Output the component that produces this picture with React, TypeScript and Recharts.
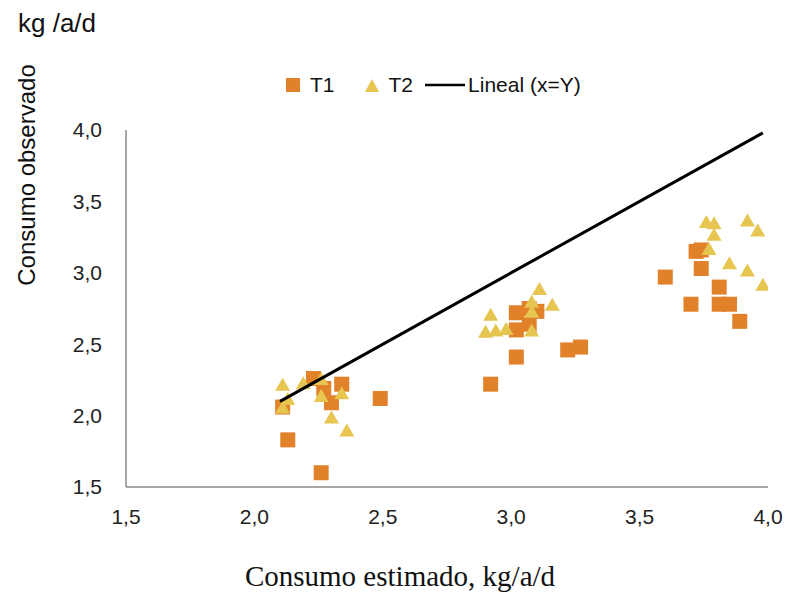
import React from "react";
import { ScatterChart, Scatter, XAxis, YAxis } from "recharts";

// T1 (cuadrados) — consumo estimado vs observado
const t1Estimado = [
  2.11, 2.13, 2.26, 2.23, 2.27, 2.3, 2.34, 2.49, 2.92, 3.02, 3.02, 3.07, 3.1, 3.02, 3.07, 3.22, 3.27,
  3.6, 3.72, 3.74, 3.74, 3.7, 3.81, 3.81, 3.85, 3.89,
];
const t1Observado = [
  2.06, 1.83, 1.6, 2.26, 2.19, 2.09, 2.22, 2.12, 2.22, 2.41, 2.72, 2.75, 2.73, 2.6, 2.64, 2.46, 2.48,
  2.97, 3.15, 3.16, 3.03, 2.78, 2.9, 2.78, 2.78, 2.66,
];

// T2 (triángulos)
const t2Estimado = [
  2.11, 2.13, 2.11, 2.19, 2.26, 2.26, 2.34, 2.3, 2.36, 3.11, 3.08, 3.08, 3.16, 2.92, 2.9, 2.94, 2.98,
  3.08, 3.76, 3.79, 3.79, 3.77, 3.92, 3.96, 3.85, 3.92, 3.98,
];
const t2Observado = [
  2.22, 2.12, 2.06, 2.23, 2.26, 2.14, 2.16, 1.99, 1.9, 2.89, 2.8, 2.73, 2.78, 2.71, 2.59, 2.6, 2.61,
  2.6, 3.36, 3.35, 3.27, 3.17, 3.37, 3.3, 3.07, 3.02, 2.92,
];

// Lineal (x=Y)
const lineal = [2.1, 3.98];

const ticks = [1.5, 2.0, 2.5, 3.0, 3.5, 4.0];

const ORANGE = "#E1822B";
const YELLOW = "#E6C550";
const FONT = "'Liberation Sans', Arial, sans-serif";

const toPoints = (xs: number[], ys: number[]) => xs.map((x, i) => ({ x, y: ys[i] }));
const t1Data = toPoints(t1Estimado, t1Observado);
const t2Data = toPoints(t2Estimado, t2Observado);
const lineData = lineal.map((v) => ({ x: v, y: v }));

const fmt = (v: number) => v.toFixed(1).replace(".", ",");

const SquareShape = (props: any) => {
  const { cx, cy } = props;
  const s = 15;
  return <rect x={cx - s / 2} y={cy - s / 2} width={s} height={s} fill={ORANGE} />;
};

const TriangleShape = (props: any) => {
  const { cx, cy } = props;
  const w = 15;
  const h = 13;
  return (
    <polygon
      points={`${cx},${cy - h / 2} ${cx + w / 2},${cy + h / 2} ${cx - w / 2},${cy + h / 2}`}
      fill={YELLOW}
    />
  );
};

const LegendBox = () => (
  <div
    style={{
      position: "absolute",
      top: 73,
      left: 286,
      display: "flex",
      alignItems: "center",
      fontFamily: FONT,
      fontSize: 21,
      color: "#111",
    }}
  >
    <svg width={14} height={14} style={{ marginRight: 10 }}>
      <rect width={14} height={14} fill={ORANGE} />
    </svg>
    <span style={{ marginRight: 30 }}>T1</span>
    <svg width={14} height={13} style={{ marginRight: 10 }}>
      <polygon points="7,0 14,13 0,13" fill={YELLOW} />
    </svg>
    <span style={{ marginRight: 12 }}>T2</span>
    <svg width={40} height={4} style={{ marginRight: 3 }}>
      <line x1={0} y1={2} x2={40} y2={2} stroke="#000" strokeWidth={2.5} />
    </svg>
    <span>Lineal (x=Y)</span>
  </div>
);

export default function App() {
  return (
    <div style={{ position: "absolute", left: 0, top: 0, width: 788, height: 594, background: "#fff" }}>
      <ScatterChart width={788} height={594} margin={{ top: 130, right: 20, bottom: 0, left: 0 }}>
        <XAxis
          type="number"
          dataKey="x"
          domain={[1.5, 4]}
          ticks={ticks}
          tickFormatter={fmt}
          height={107}
          tickLine={false}
          tickMargin={16}
          axisLine={{ stroke: "#8a8a8a", strokeWidth: 1.5 }}
          tick={{ fontSize: 21, fill: "#222", fontFamily: FONT }}
          allowDataOverflow
        />
        <YAxis
          type="number"
          dataKey="y"
          domain={[1.5, 4]}
          ticks={ticks}
          tickFormatter={fmt}
          width={126}
          tickLine={false}
          tickMargin={18}
          axisLine={{ stroke: "#8a8a8a", strokeWidth: 1.5 }}
          tick={{ fontSize: 21, fill: "#222", fontFamily: FONT }}
          allowDataOverflow
        />
        <Scatter name="T1" data={t1Data} shape={<SquareShape />} isAnimationActive={false} />
        <Scatter name="T2" data={t2Data} shape={<TriangleShape />} isAnimationActive={false} />
        <Scatter
          name="Lineal (x=Y)"
          data={lineData}
          line={{ stroke: "#000", strokeWidth: 3 }}
          shape={() => null}
          isAnimationActive={false}
        />
      </ScatterChart>
      <div style={{ position: "absolute", left: 18, top: 8, fontFamily: FONT, fontSize: 26, color: "#111" }}>
        kg /a/d
      </div>
      <div
        style={{
          position: "absolute",
          left: 27,
          top: 175,
          transform: "translate(-50%, -50%) rotate(-90deg)",
          whiteSpace: "nowrap",
          fontFamily: FONT,
          fontSize: 24,
          color: "#111",
        }}
      >
        Consumo observado
      </div>
      <div
        style={{
          position: "absolute",
          left: 0,
          width: 800,
          top: 560,
          textAlign: "center",
          fontFamily: "'Liberation Serif', 'Times New Roman', serif",
          fontSize: 29,
          color: "#111",
        }}
      >
        Consumo estimado, kg/a/d
      </div>
      <LegendBox />
    </div>
  );
}
